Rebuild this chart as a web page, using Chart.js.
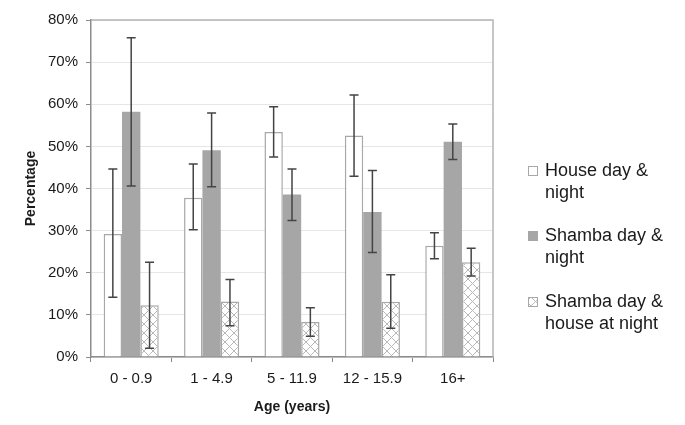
<!DOCTYPE html>
<html>
<head>
<meta charset="utf-8">
<script src="https://cdn.jsdelivr.net/npm/chart.js@4.4.1/dist/chart.umd.min.js"></script>
<style>
  html, body { margin: 0; padding: 0; background: #fff; }
  #wrap { width: 685px; height: 425px; position: relative; }
</style>
</head>
<body>
<div id="wrap"><canvas id="chart"></canvas></div>
<script>
// Age groups on the x axis
const categories = ["0 - 0.9", "1 - 4.9", "5 - 11.9", "12 - 15.9", "16+"];

// Percentages
const houseValues = [29.2, 37.8, 53.4, 52.6, 26.4];
const houseLow = [14.2, 30.2, 47.5, 42.9, 23.3];
const houseHigh = [44.6, 45.8, 59.4, 62.2, 29.5];

const shambaValues = [58.2, 49.1, 38.6, 34.4, 51.1];
const shambaLow = [40.6, 40.4, 32.4, 24.8, 46.9];
const shambaHigh = [75.8, 57.9, 44.6, 44.3, 55.3];

const mixedValues = [12.3, 13.2, 8.3, 13.1, 22.5];
const mixedLow = [2.1, 7.4, 4.9, 6.8, 19.2];
const mixedHigh = [22.5, 18.4, 11.7, 19.5, 25.8];

const yTicks = [0, 10, 20, 30, 40, 50, 60, 70, 80];

const seriesLabels = [
  ["House day &", "night"],
  ["Shamba day &", "night"],
  ["Shamba day &", "house at night"],
];

const FONT = "'Liberation Sans', Arial, sans-serif";

// Cross hatch fill for the third series
function makeHatch() {
  const s = 9;
  const c = document.createElement("canvas");
  c.width = s;
  c.height = s;
  const g = c.getContext("2d");
  g.fillStyle = "#fff";
  g.fillRect(0, 0, s, s);
  g.strokeStyle = "#b8b8b8";
  g.lineWidth = 1;
  g.beginPath();
  g.moveTo(0, 0);
  g.lineTo(s, s);
  g.moveTo(s, 0);
  g.lineTo(0, s);
  g.stroke();
  return g.createPattern(c, "repeat");
}
const hatch = makeHatch();

// Error bars, drawn on top of the bars
const errorBars = {
  id: "errorBars",
  afterDatasetsDraw(chart) {
    const ctx = chart.ctx;
    const y = chart.scales.y;
    ctx.save();
    ctx.strokeStyle = "#444";
    ctx.lineWidth = 1.5;
    chart.data.datasets.forEach((ds, i) => {
      const meta = chart.getDatasetMeta(i);
      meta.data.forEach((bar, j) => {
        const top = y.getPixelForValue(ds.errHigh[j]);
        const bottom = y.getPixelForValue(ds.errLow[j]);
        ctx.beginPath();
        ctx.moveTo(bar.x, top);
        ctx.lineTo(bar.x, bottom);
        ctx.moveTo(bar.x - 4.5, top);
        ctx.lineTo(bar.x + 4.5, top);
        ctx.moveTo(bar.x - 4.5, bottom);
        ctx.lineTo(bar.x + 4.5, bottom);
        ctx.stroke();
      });
    });
    ctx.restore();
  },
};

// Top and right frame plus the legend on the right
const frameAndLegend = {
  id: "frameAndLegend",
  afterDraw(chart) {
    const ctx = chart.ctx;
    const a = chart.chartArea;
    ctx.save();
    ctx.strokeStyle = "#b4b4b4";
    ctx.lineWidth = 1.5;
    ctx.beginPath();
    ctx.moveTo(a.left, a.top);
    ctx.lineTo(a.right, a.top);
    ctx.lineTo(a.right, a.bottom);
    ctx.stroke();

    ctx.font = "18px " + FONT;
    ctx.textBaseline = "middle";
    const startY = [171, 236, 302];
    chart.data.datasets.forEach((ds, i) => {
      const y0 = startY[i];
      ctx.fillStyle = ds.backgroundColor;
      ctx.fillRect(528, y0 - 5, 10, 10);
      ctx.strokeStyle = ds.borderColor;
      ctx.lineWidth = 1;
      ctx.strokeRect(528.5, y0 - 4.5, 9, 9);
      ctx.fillStyle = "#1a1a1a";
      seriesLabels[i].forEach((line, k) => {
        ctx.fillText(line, 545, y0 + k * 22);
      });
    });
    ctx.restore();
  },
};

new Chart(document.getElementById("chart"), {
  type: "bar",
  data: {
    labels: categories,
    datasets: [
      {
        label: seriesLabels[0].join(" "),
        data: houseValues,
        errLow: houseLow,
        errHigh: houseHigh,
        backgroundColor: "#ffffff",
        borderColor: "#a8a8a8",
        borderWidth: 1.5,
      },
      {
        label: seriesLabels[1].join(" "),
        data: shambaValues,
        errLow: shambaLow,
        errHigh: shambaHigh,
        backgroundColor: "#a6a6a6",
        borderColor: "#a6a6a6",
        borderWidth: 0,
      },
      {
        label: seriesLabels[2].join(" "),
        data: mixedValues,
        errLow: mixedLow,
        errHigh: mixedHigh,
        backgroundColor: hatch,
        borderColor: "#a8a8a8",
        borderWidth: 1.5,
      },
    ],
  },
  options: {
    responsive: true,
    maintainAspectRatio: false,
    animation: false,
    layout: { padding: { top: 20, right: 192, bottom: 0, left: 0 } },
    datasets: {
      bar: { barPercentage: 1, categoryPercentage: 0.685 },
    },
    plugins: {
      legend: { display: false },
      tooltip: { enabled: false },
    },
    scales: {
      x: {
        border: { color: "#8c8c8c", width: 1.5 },
        grid: {
          offset: true,
          drawOnChartArea: false,
          tickLength: 5,
          tickColor: "#8c8c8c",
        },
        ticks: {
          color: "#1a1a1a",
          padding: 8,
          font: { family: FONT, size: 15 },
        },
        title: {
          display: true,
          text: "Age (years)",
          color: "#1a1a1a",
          font: { family: FONT, size: 14, weight: "bold" },
          padding: { top: 4, bottom: 9 },
        },
        afterFit: (scale) => {
          scale.height = 68;
        },
      },
      y: {
        min: 0,
        max: 80,
        border: { color: "#8c8c8c", width: 1.5 },
        grid: {
          color: "#e6e6e6",
          tickLength: 5,
          tickColor: "#8c8c8c",
        },
        afterBuildTicks: (scale) => {
          scale.ticks = yTicks.map((v) => ({ value: v }));
        },
        ticks: {
          color: "#1a1a1a",
          padding: 8,
          font: { family: FONT, size: 15 },
          callback: (value) => `${value}%`,
        },
        title: {
          display: true,
          text: "Percentage",
          color: "#1a1a1a",
          font: { family: FONT, size: 14, weight: "bold" },
          padding: { top: 23, bottom: 0 },
        },
        afterFit: (scale) => {
          scale.width = 91;
        },
      },
    },
  },
  plugins: [errorBars, frameAndLegend],
});
</script>
</body>
</html>
